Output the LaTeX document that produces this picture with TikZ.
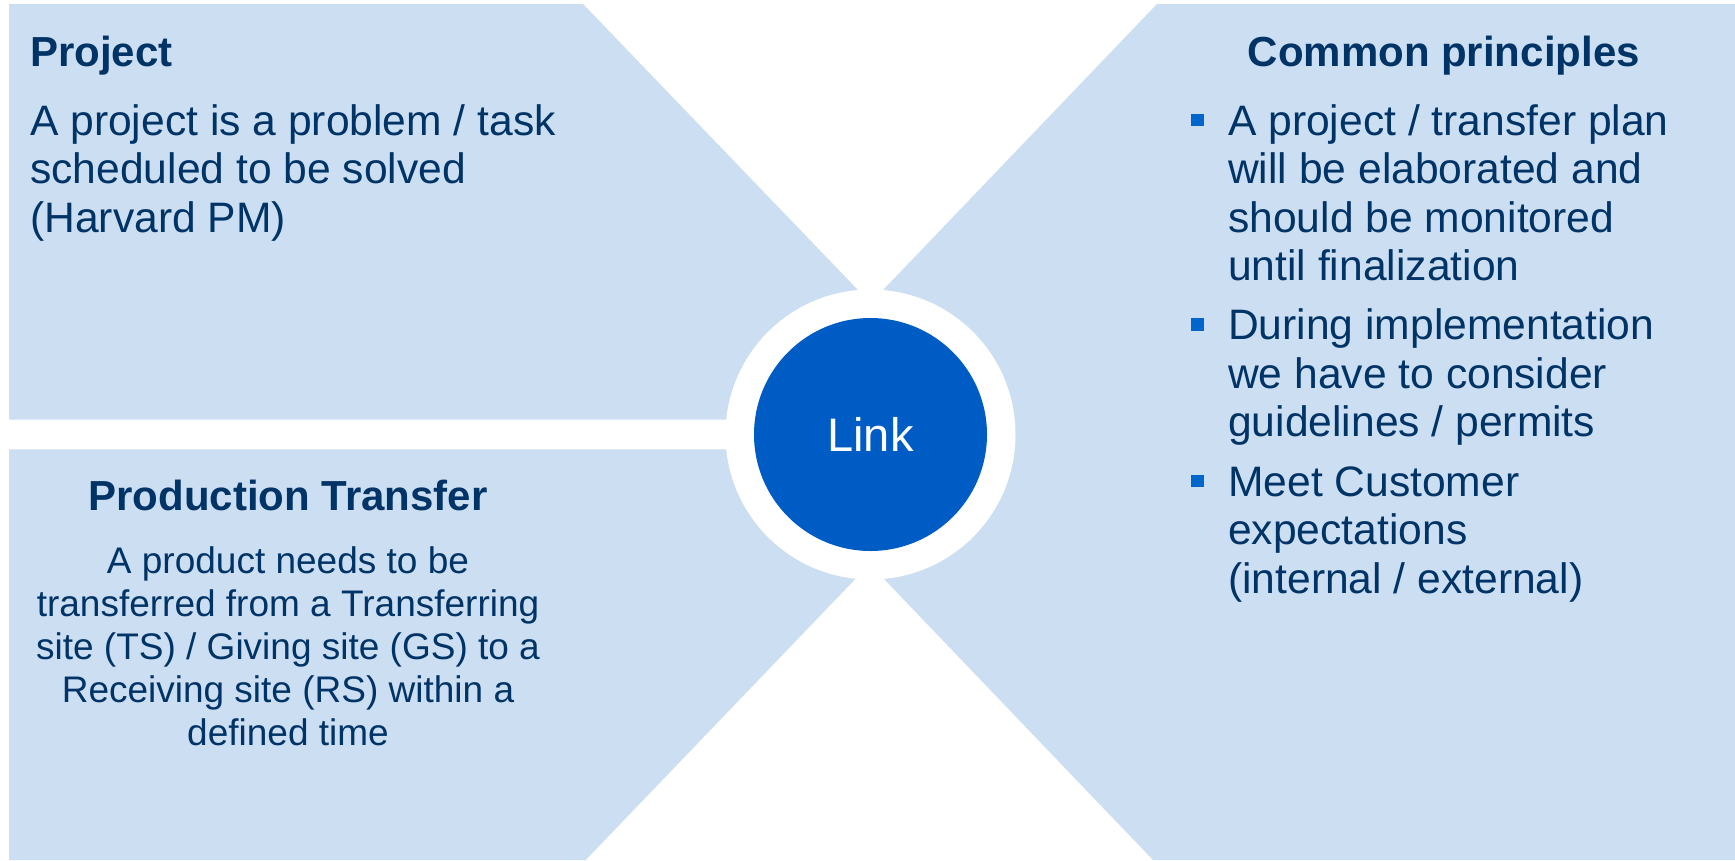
\documentclass[tikz,border=0pt]{standalone}
\usepackage{fontspec}
\setmainfont{Liberation Sans}
\definecolor{panel}{RGB}{204,222,242}
\definecolor{linkblue}{RGB}{0,92,197}
\definecolor{navy}{RGB}{0,51,102}
\definecolor{bulletblue}{RGB}{0,102,204}
\begin{document}
\begin{tikzpicture}[x=1pt,y=-1pt,
  panelfill/.style={fill=panel, draw=none},
  titletext/.style={font=\fontsize{42}{48.5}\selectfont\bfseries, text=navy, inner sep=0},
  bodytext/.style={font=\fontsize{42.6}{48.5}\selectfont, text=navy, inner sep=0, align=left},
  smalltext/.style={font=\fontsize{37}{43}\selectfont, text=navy, inner sep=0, align=center},
  sqbullet/.style={rectangle, fill=bulletblue, minimum size=12.5pt, inner sep=0},
]
\useasboundingbox (0,0) rectangle (1735,860);
\fill[white] (0,0) rectangle (1735,860);

% panels
\fill[panelfill] (9,4) -- (583,4) -- (869.7,302.2) -- (870,419.5) -- (9,419.5) -- cycle;
\fill[panelfill] (9,449.3) -- (869,449.3) -- (868,565.8) -- (585.7,860) -- (9,860) -- cycle;
\fill[panelfill] (1157,4) -- (1735,4) -- (1735,860) -- (1153,860) -- (871.6,566) -- (871.4,302.2) -- cycle;

% centre
\node[circle, fill=white, minimum size=290pt, inner sep=0] (ring) at (870.5,434.5) {};
\node[circle, fill=linkblue, minimum size=233pt, inner sep=0, text=white,
      font=\fontsize{47}{56}\selectfont] (link) at (870.5,434.5) {Link};

% top left (base anchor = last line baseline)
\node[titletext, anchor=base west] (ptitle) at (30,66) {Project};
\node[bodytext, anchor=base west] (ptext) at (30,232)
  {A project is a problem / task\\scheduled to be solved\\(Harvard PM)};

% bottom left
\node[titletext, anchor=base] (pttitle) at (288,510.7) {Production Transfer};
\node[smalltext, anchor=base] (pttext) at (288,745)
  {A product needs to be\\transferred from a Transferring\\site (TS) / Giving site (GS) to a\\Receiving site (RS) within a\\defined time};

% right
\node[titletext, anchor=base] (ctitle) at (1443.7,66) {Common principles};
\node[sqbullet] (s1) at (1197.5,120) {};
\node[bodytext, anchor=base west] (c1) at (1228,280.5)
  {A project / transfer plan\\will be elaborated and\\should be monitored\\until finalization};
\node[sqbullet] (s2) at (1197.5,324.5) {};
\node[bodytext, anchor=base west] (c2) at (1228,436.5)
  {During implementation\\we have to consider\\guidelines / permits};
\node[sqbullet] (s3) at (1197.5,481) {};
\node[bodytext, anchor=base west] (c3) at (1228,593)
  {Meet Customer\\expectations\\(internal / external)};
\end{tikzpicture}
\end{document}
